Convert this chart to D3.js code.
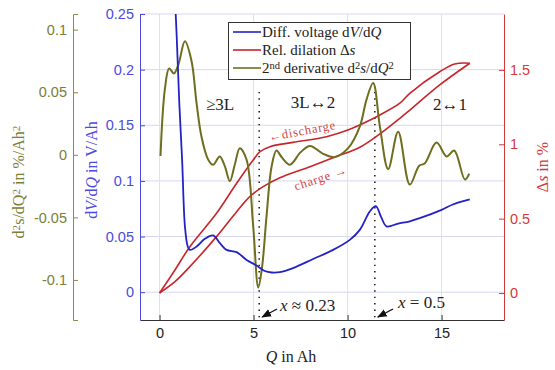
<!DOCTYPE html>
<html>
<head>
<meta charset="utf-8">
<script src="https://cdn.jsdelivr.net/npm/d3@7"></script>
<style>
  body { margin: 0; background: #fff; }
</style>
</head>
<body>
<svg id="chart" width="555" height="370"></svg>
<script>
// differential voltage dV/dQ (V/Ah)
var dvQ = [0.6, 0.87, 1.05, 1.2, 1.35, 1.5, 1.61, 1.97, 2.41, 2.85, 3.21, 3.56, 4.1, 4.63, 5.16, 5.6, 5.96, 6.4, 7.1, 8.17, 9.23, 10.12, 10.65, 11.19, 11.5, 11.8, 12.07, 12.69, 13.31, 13.84, 15.0, 15.6, 16.5];
var dvVal = [0.33, 0.246, 0.17, 0.119, 0.059, 0.041, 0.038, 0.041, 0.048, 0.051, 0.044, 0.038, 0.036, 0.029, 0.024, 0.019, 0.0177, 0.018, 0.0217, 0.0298, 0.038, 0.047, 0.056, 0.0727, 0.0773, 0.067, 0.0592, 0.0616, 0.0637, 0.0665, 0.074, 0.0788, 0.0833];

// rel. dilation, charge branch (lower) and discharge branch (upper), %
var chQ = [0, 0.82, 1.61, 3.03, 4.1, 4.8, 5.51, 6.4, 8.0, 9.4, 10.65, 11.72, 12.78, 13.31, 14.9, 16.5];
var chVal = [0, 0.076, 0.177, 0.379, 0.547, 0.648, 0.715, 0.775, 0.849, 0.917, 0.98, 1.07, 1.175, 1.23, 1.399, 1.545];
var disQ = [0, 0.82, 1.61, 3.03, 4.1, 4.98, 5.34, 5.87, 7.1, 8.88, 10.12, 10.65, 11.72, 12.78, 13.31, 14.9, 15.7, 16.5];
var disVal = [0, 0.155, 0.311, 0.536, 0.738, 0.894, 0.95, 0.984, 1.013, 1.051, 1.101, 1.13, 1.197, 1.276, 1.343, 1.488, 1.54, 1.545];

// 2nd derivative d2s/dQ2 (%/Ah2)
var d2Q = [0.05, 0.28, 0.51, 0.76, 1.0, 1.35, 1.7, 1.97, 2.23, 2.59, 2.85, 3.2, 3.47, 3.74, 4.0, 4.27, 4.63, 4.98, 5.25, 5.45, 5.69, 5.96, 6.22, 6.5, 6.93, 7.5, 8.0, 8.7, 9.32, 10.03, 10.65, 11.0, 11.36, 11.72, 12.16, 12.69, 13.31, 13.81, 14.1, 14.73, 15.27, 15.67, 16.24, 16.47];
var d2Val = [-0.001, 0.052, 0.069, 0.065, 0.072, 0.0907, 0.075, 0.041, 0.0145, -0.004, -0.008, -0.0013, -0.009, -0.021, -0.008, 0.0053, -0.004, -0.057, -0.106, -0.09, -0.049, -0.0093, 0.0034, -0.002, -0.0079, 0.002, 0.0071, 0.0008, -0.0018, 0.0053, 0.0225, 0.0437, 0.0574, 0.0225, -0.0114, 0.0185, -0.0238, -0.0087, -0.007, 0.0098, -0.0013, 0.0034, -0.0198, -0.015];

var xTicks = [0, 5, 10, 15];
var dvTicks = [0, 0.05, 0.1, 0.15, 0.2, 0.25];
var sTicks = [0, 0.5, 1, 1.5];
var d2Ticks = [-0.1, -0.05, 0, 0.05, 0.1];
var phaseLines = [5.3, 11.45];

var blue = "#2323c4", red = "#c8252b", olive = "#6e6e1e";
var blueAx = "#4a4ae0", redAx = "#d23a3a", oliveAx = "#8a8a4c";
var SANS = "'Liberation Sans', Arimo, Arial, Helvetica, sans-serif";
var SERIF = "'Liberation Serif', 'DejaVu Serif', 'Times New Roman', serif";
var fmt = d => String(d);

var plot = {left: 140, right: 504, top: 14, bottom: 320};
var svg = d3.select("#chart");

var x = d3.scaleLinear().domain([-1.04, 18.32]).range([plot.left, plot.right]);
var yV = d3.scaleLinear().domain([-0.025, 0.25]).range([plot.bottom, plot.top]);
var yS = d3.scaleLinear().domain([-0.1816, 1.876]).range([plot.bottom, plot.top]);
var yD = d3.scaleLinear().domain([-0.132, 0.1125]).range([plot.bottom, plot.top]);

svg.append("clipPath").attr("id", "clip")
  .append("rect").attr("x", plot.left).attr("y", plot.top)
  .attr("width", plot.right - plot.left).attr("height", plot.bottom - plot.top);

// grid
svg.append("g").selectAll("line").data(dvTicks).enter().append("line")
  .attr("x1", plot.left).attr("x2", plot.right)
  .attr("y1", d => yV(d)).attr("y2", d => yV(d))
  .attr("stroke", "#d6d6f2").attr("stroke-width", 1);
svg.append("g").selectAll("line").data(xTicks).enter().append("line")
  .attr("y1", plot.top).attr("y2", plot.bottom)
  .attr("x1", d => x(d)).attr("x2", d => x(d))
  .attr("stroke", "#e0e0ea").attr("stroke-width", 1);

// phase boundaries
svg.append("g").selectAll("line").data(phaseLines).enter().append("line")
  .attr("x1", d => x(d)).attr("x2", d => x(d))
  .attr("y1", yV(0.18)).attr("y2", plot.bottom)
  .attr("stroke", "#222").attr("stroke-width", 1.6)
  .attr("stroke-dasharray", "1.4,5");

// curves
var curves = svg.append("g").attr("clip-path", "url(#clip)");
function draw(qs, vs, yScale, color, w) {
  var line = d3.line().curve(d3.curveCatmullRom.alpha(0.5))
    .x(d => x(d[0])).y(d => yScale(d[1]));
  curves.append("path").datum(qs.map((q, i) => [q, vs[i]]))
    .attr("d", line).attr("fill", "none")
    .attr("stroke", color).attr("stroke-width", w);
}
draw(chQ, chVal, yS, red, 1.6);
draw(disQ, disVal, yS, red, 1.6);
draw(d2Q, d2Val, yD, olive, 2);
draw(dvQ, dvVal, yV, blue, 1.8);

// axes
function styleAxis(g, col, txt) {
  g.select(".domain").attr("stroke", col);
  g.selectAll(".tick line").attr("stroke", col);
  g.selectAll("text").attr("fill", txt).attr("font-size", "14.5px")
    .style("font-family", SANS);
}
var ax = svg.append("g").attr("transform", "translate(0," + plot.bottom + ")")
  .call(d3.axisBottom(x).tickValues(xTicks).tickFormat(fmt).tickSize(-5).tickSizeOuter(0).tickPadding(8));
styleAxis(ax, "#333", "#222");

var ayV = svg.append("g").attr("transform", "translate(" + plot.left + ",0)")
  .call(d3.axisLeft(yV).tickValues(dvTicks).tickFormat(fmt).tickSize(-5).tickSizeOuter(0).tickPadding(6));
styleAxis(ayV, blueAx, blueAx);

var ayS = svg.append("g").attr("transform", "translate(" + plot.right + ",0)")
  .call(d3.axisRight(yS).tickValues(sTicks).tickFormat(fmt).tickSize(-5).tickSizeOuter(0).tickPadding(6));
styleAxis(ayS, redAx, redAx);

var ayD = svg.append("g").attr("transform", "translate(73,0)")
  .call(d3.axisLeft(yD).tickValues(d2Ticks).tickFormat(fmt).tickSize(-5).tickSizeOuter(-5).tickPadding(6));
styleAxis(ayD, oliveAx, "#7d7d35");

// rich text helper: parts [text, style]
function rich(t, parts) {
  t.style("font-family", SERIF);
  parts.forEach(p => {
    var s = t.append("tspan").text(p[0]);
    if (p[1] === "i") s.style("font-style", "italic");
    if (p[1] === "sup") s.attr("baseline-shift", "38%").attr("font-size", "70%");
  });
  return t;
}

// axis titles
rich(svg.append("text").attr("font-size", "16px")
  .attr("text-anchor", "middle").attr("fill", "#222")
  .attr("x", 291).attr("y", 362), [["Q", "i"], [" in Ah"]]);

rich(svg.append("text").attr("font-size", "16px")
  .attr("text-anchor", "middle").attr("fill", blueAx)
  .attr("transform", "translate(97,170) rotate(-90)"),
  [["d"], ["V", "i"], ["/d"], ["Q", "i"], [" in V/Ah"]]);

rich(svg.append("text").attr("font-size", "16px")
  .attr("text-anchor", "middle").attr("fill", "#7d7d35")
  .attr("transform", "translate(24,182) rotate(-90)"),
  [["d"], ["2", "sup"], ["s/dQ"], ["2", "sup"], [" in %/Ah"], ["2", "sup"]]);

rich(svg.append("text").attr("font-size", "16px")
  .attr("text-anchor", "middle").attr("fill", redAx)
  .attr("transform", "translate(548,167) rotate(-90)"),
  [["Δ"], ["s", "i"], [" in %"]]);

// phase labels
var phases = [["≥3L", 220, 110], ["3L↔2", 313, 108], ["2↔1", 450, 110]];
svg.append("g").selectAll("text").data(phases).enter().append("text")
  .style("font-family", SERIF).attr("font-size", "17px").attr("fill", "#222")
  .attr("text-anchor", "middle")
  .attr("x", d => d[1]).attr("y", d => d[2]).text(d => d[0]);

svg.append("text").style("font-family", SERIF).attr("font-size", "12.5px")
  .attr("fill", "#d04545").attr("text-anchor", "middle")
  .attr("letter-spacing", "0.8px")
  .attr("transform", "translate(303,135) rotate(-10.5)").text("←discharge");
svg.append("text").style("font-family", SERIF).attr("font-size", "12.5px")
  .attr("fill", "#d04545").attr("text-anchor", "middle")
  .attr("letter-spacing", "0.8px")
  .attr("transform", "translate(322,182) rotate(-18)").text("charge →");

// x annotations with arrows
svg.append("defs").append("marker").attr("id", "arr")
  .attr("viewBox", "0 0 10 10").attr("refX", 9).attr("refY", 5)
  .attr("markerWidth", 7).attr("markerHeight", 7).attr("orient", "auto")
  .append("path").attr("d", "M0,1 L10,5 L0,9 Z").attr("fill", "#111");
var notes = [[5.3, 277, 309, 280, 311, [["x", "i"], [" ≈ 0.23"]]],
             [11.45, 393, 309, 398, 308, [["x", "i"], [" = 0.5"]]]];
notes.forEach(n => {
  svg.append("line").attr("x1", n[1]).attr("y1", n[2])
    .attr("x2", x(n[0]) + 3).attr("y2", 317)
    .attr("stroke", "#111").attr("stroke-width", 1.4).attr("marker-end", "url(#arr)");
  rich(svg.append("text").attr("font-size", "17px")
    .attr("fill", "#222").attr("x", n[3]).attr("y", n[4]), n[5]);
});

// legend
var lg = svg.append("g");
lg.append("rect").attr("x", 228.5).attr("y", 22.5).attr("width", 182).attr("height", 57)
  .attr("fill", "#fff").attr("stroke", "#333").attr("stroke-width", 1);
var legendItems = [
  [blue, [["Diff. voltage d"], ["V", "i"], ["/d"], ["Q", "i"]]],
  [red, [["Rel. dilation Δ"], ["s", "i"]]],
  [olive, [["2"], ["nd", "sup"], [" derivative d"], ["2", "sup"], ["s", "i"], ["/d"], ["Q", "i"], ["2", "sup"]]]
];
legendItems.forEach((it, i) => {
  var yy = 32 + i * 18;
  lg.append("line").attr("x1", 233).attr("x2", 261).attr("y1", yy).attr("y2", yy)
    .attr("stroke", it[0]).attr("stroke-width", 1.6);
  rich(lg.append("text").attr("font-size", "15px")
    .attr("fill", "#222").attr("x", 262).attr("y", yy + 4.5), it[1]);
});
</script>
</body>
</html>
